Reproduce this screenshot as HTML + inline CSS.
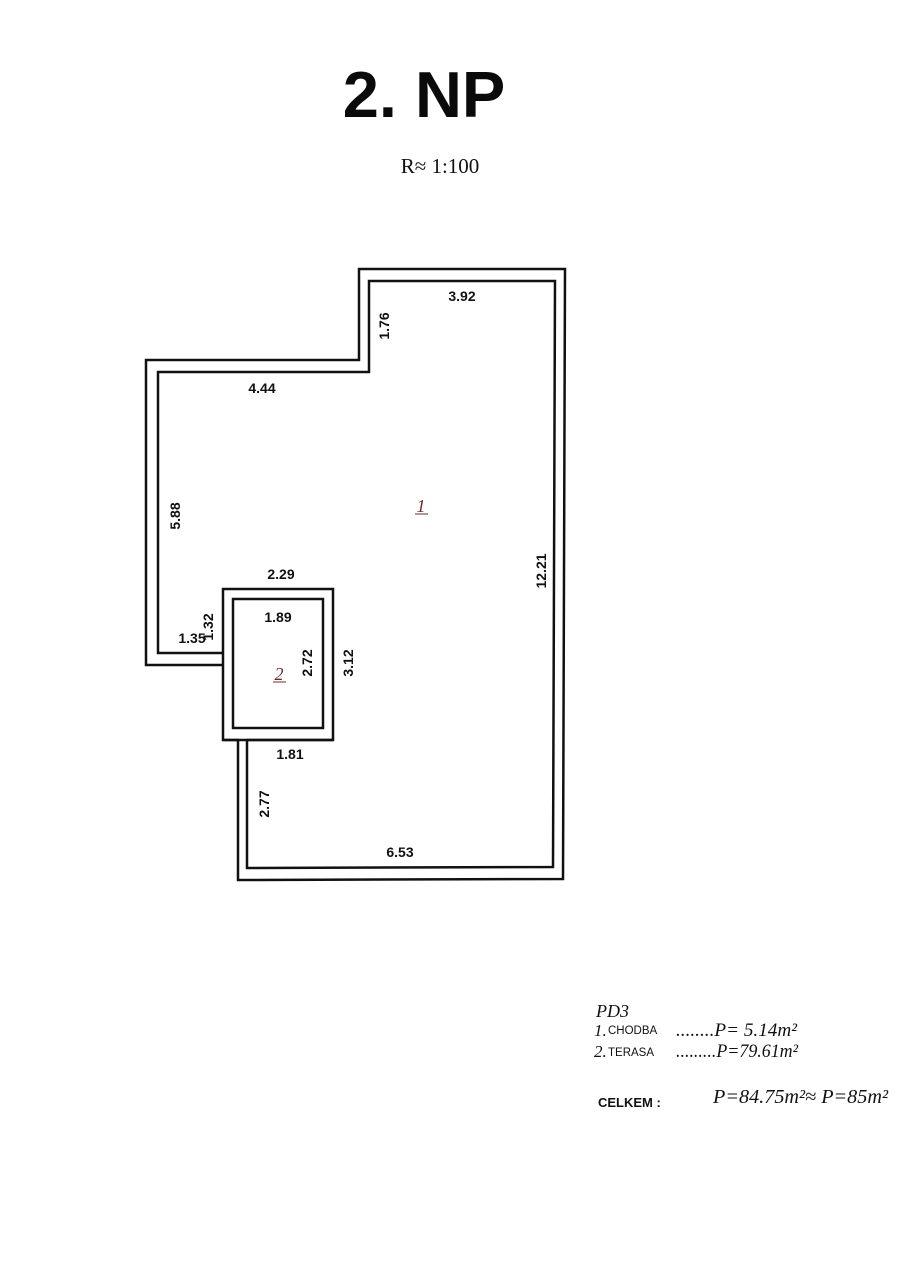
<!DOCTYPE html>
<html><head><meta charset="utf-8"><style>
html,body{margin:0;padding:0;background:#fff;}
body{width:904px;height:1280px;position:relative;overflow:hidden;}
svg{position:absolute;left:0;top:0;}
</style></head><body>
<svg width="904" height="1280" viewBox="0 0 904 1280" xmlns="http://www.w3.org/2000/svg">
<text x="424" y="117" text-anchor="middle" font-family="Liberation Sans, sans-serif" font-weight="bold" font-size="65" fill="#0a0a0a">2. NP</text>
<text x="440" y="173" text-anchor="middle" font-family="Liberation Serif, serif" font-size="21" fill="#111">R≈ 1:100</text>
<g fill="none" stroke="#111" stroke-width="2.5">
<polyline points="223,665 146,665 146,360 359,360 359,269 565,269 563,879 238,880 238,740 223,740"/>
<polyline points="223,653 158,653 158,372 369,372 369,281 555,281 553,867 247,868 247,740 333,740"/>
<rect x="223" y="589" width="110" height="151"/>
<rect x="233" y="599" width="90" height="129"/>
</g>
<g font-family="Liberation Sans, sans-serif" font-weight="bold" font-size="14" fill="#111" text-anchor="middle">
<text x="462" y="301">3.92</text>
<text x="262" y="393">4.44</text>
<text x="281" y="579">2.29</text>
<text x="278" y="622">1.89</text>
<text x="192" y="643">1.35</text>
<text x="290" y="759">1.81</text>
<text x="400" y="857">6.53</text>
<text transform="translate(389,326) rotate(-90)">1.76</text>
<text transform="translate(180,516) rotate(-90)">5.88</text>
<text transform="translate(213,627) rotate(-90)">1.32</text>
<text transform="translate(312,663) rotate(-90)">2.72</text>
<text transform="translate(353,663) rotate(-90)">3.12</text>
<text transform="translate(546,571) rotate(-90)">12.21</text>
<text transform="translate(269,804) rotate(-90)">2.77</text>
</g>
<g font-family="Liberation Serif, serif" font-style="italic" font-size="18" fill="#6b2a2a" text-anchor="middle">
<text x="421" y="512">1</text><line x1="415" y1="514" x2="428" y2="514" stroke="#6b2a2a" stroke-width="1"/>
<text x="279" y="680">2</text><line x1="273" y1="682" x2="286" y2="682" stroke="#6b2a2a" stroke-width="1"/>
</g>
<g font-family="Liberation Serif, serif" font-style="italic" fill="#111">
<text x="596" y="1017" font-size="18">PD3</text>
<text x="594" y="1036" font-size="17">1.</text>
<text x="594" y="1057" font-size="17">2.</text>
<text x="676" y="1036" font-size="19" textLength="121" lengthAdjust="spacingAndGlyphs">........P=  5.14m²</text>
<text x="676" y="1057" font-size="19" textLength="122" lengthAdjust="spacingAndGlyphs">.........P=79.61m²</text>
<text x="713" y="1103" font-size="20" textLength="175" lengthAdjust="spacingAndGlyphs">P=84.75m²≈  P=85m²</text>
</g>
<g font-family="Liberation Sans, sans-serif" fill="#111">
<text x="608" y="1034" font-size="11.5">CHODBA</text>
<text x="608" y="1056" font-size="11.5">TERASA</text>
<text x="598" y="1107" font-size="13" font-weight="bold">CELKEM :</text>
</g>
</svg>
</body></html>
